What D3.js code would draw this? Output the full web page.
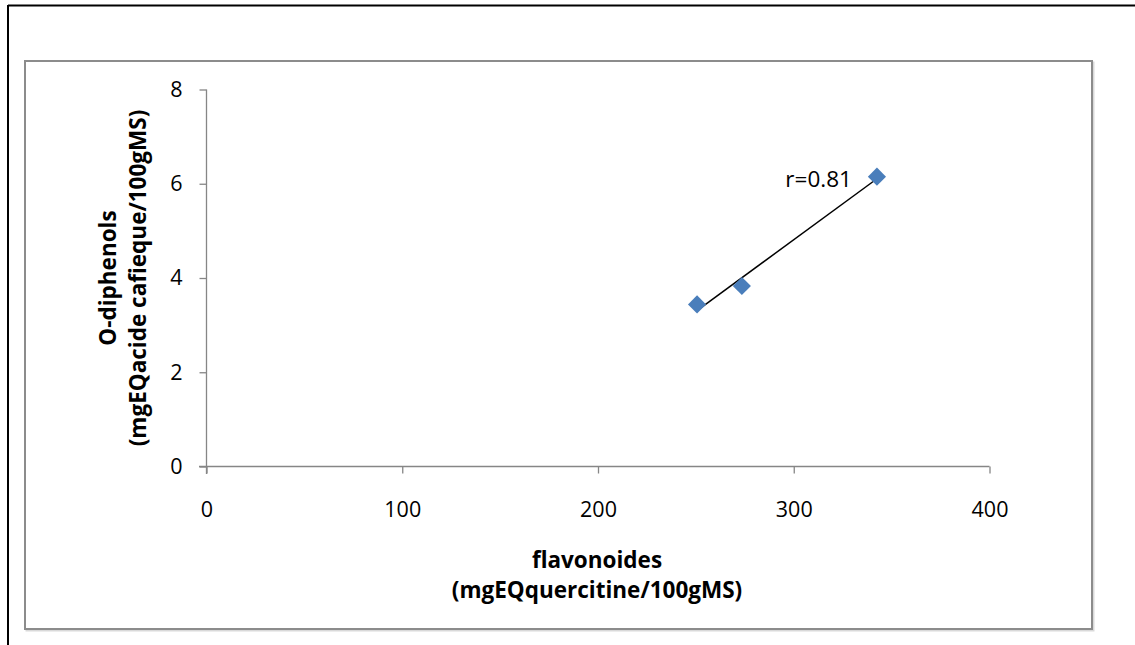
<!DOCTYPE html>
<html>
<head>
<meta charset="utf-8">
<title>flavonoides vs O-diphenols</title>
<script src="https://cdn.jsdelivr.net/npm/d3@7"></script>
<style>
  body { margin: 0; background: #fff; }
  text { font-family: "Open Sans", "Liberation Sans", sans-serif; }
</style>
</head>
<body>
<script>
// data
var flavonoides = [250.6, 273.5, 342.5];
var diphenols = [3.44, 3.83, 6.15];
var xTicks = [0, 100, 200, 300, 400];
var yTicks = [0, 2, 4, 6, 8];
var xTitle = ["flavonoides", "(mgEQquercitine/100gMS)"];
var yTitle = ["O-diphenols", "(mgEQacide cafieque/100gMS)"];
var rLabel = "r=0.81";

var W = 1135, H = 645;
var svg = d3.select("body").append("svg").attr("width", W).attr("height", H);

// outer frame (top and left only, as in the scan)
svg.append("line").attr("x1", 8).attr("y1", 5.5).attr("x2", W).attr("y2", 5.5)
  .attr("stroke", "#000").attr("stroke-width", 2);
svg.append("line").attr("x1", 8).attr("y1", 5).attr("x2", 8).attr("y2", H)
  .attr("stroke", "#000").attr("stroke-width", 2);

// chart area box with a soft shadow
svg.append("rect").attr("x", 26.5).attr("y", 62.5).attr("width", 1067).attr("height", 568)
  .attr("fill", "none").attr("stroke", "#d9d9d9").attr("stroke-width", 2);
svg.append("rect").attr("x", 25).attr("y", 61).attr("width", 1067).attr("height", 568)
  .attr("fill", "#fff").attr("stroke", "#8c8c8c").attr("stroke-width", 2);

var x = d3.scaleLinear().domain([0, 400]).range([206.5, 989.5]);
var y = d3.scaleLinear().domain([0, 8]).range([466.5, 89.5]);

var axisColor = "#868686";

var gx = svg.append("g").attr("transform", "translate(0,466.5)")
  .call(d3.axisBottom(x).tickValues(xTicks).tickSizeInner(7).tickSizeOuter(0).tickPadding(28));
var gy = svg.append("g").attr("transform", "translate(206.5,0)")
  .call(d3.axisLeft(y).tickValues(yTicks).tickSizeInner(7).tickSizeOuter(0).tickPadding(17));

[gx, gy].forEach(function(g) {
  g.select(".domain").attr("stroke", axisColor).attr("stroke-width", 1.3);
  g.selectAll(".tick line").attr("stroke", axisColor).attr("stroke-width", 1.3);
  g.selectAll(".tick text").attr("fill", "#000").style("font-size", "21.5px")
    .style("font-family", "'Open Sans', sans-serif");
});
// x axis line reaches back to the y tick, y axis reaches down past 0
gx.select(".domain").attr("d", "M199,0H989.5");
gy.select(".domain").attr("d", "M0,89.5V474");

// trend line (least squares)
var mx = d3.mean(flavonoides), my = d3.mean(diphenols);
var sxy = d3.sum(flavonoides, function(v, i) { return (v - mx) * (diphenols[i] - my); });
var sxx = d3.sum(flavonoides, function(v) { return (v - mx) * (v - mx); });
var slope = sxy / sxx, icpt = my - slope * mx;
var x0 = d3.min(flavonoides), x1 = d3.max(flavonoides);
svg.append("line")
  .attr("x1", x(x0)).attr("y1", y(icpt + slope * x0))
  .attr("x2", x(x1)).attr("y2", y(icpt + slope * x1))
  .attr("stroke", "#000").attr("stroke-width", 1.5);

// points (diamonds)
var diamond = d3.symbol().type(d3.symbolSquare).size(165);
svg.selectAll("path.pt").data(flavonoides).enter().append("path")
  .attr("class", "pt")
  .attr("d", diamond)
  .attr("transform", function(d, i) {
    return "translate(" + x(d) + "," + y(diphenols[i]) + ") rotate(45)";
  })
  .attr("fill", "#4a7ebb");

// r label
svg.append("text").attr("x", x(x1) - 25).attr("y", 187)
  .attr("text-anchor", "end").style("font-size", "22.5px").text(rLabel);

// axis titles
svg.append("text").attr("text-anchor", "middle")
  .style("font-size", "22.5px").style("font-weight", "bold")
  .selectAll("tspan").data(xTitle).enter().append("tspan")
  .attr("x", 597).attr("y", function(d, i) { return 568 + i * 30; })
  .text(function(d) { return d; });

svg.append("text").attr("transform", "translate(0,278) rotate(-90)")
  .attr("text-anchor", "middle")
  .style("font-size", "22.5px").style("font-weight", "bold")
  .selectAll("tspan").data(yTitle).enter().append("tspan")
  .attr("x", 0).attr("y", function(d, i) { return 116 + i * 30; })
  .text(function(d) { return d; });
</script>
</body>
</html>
